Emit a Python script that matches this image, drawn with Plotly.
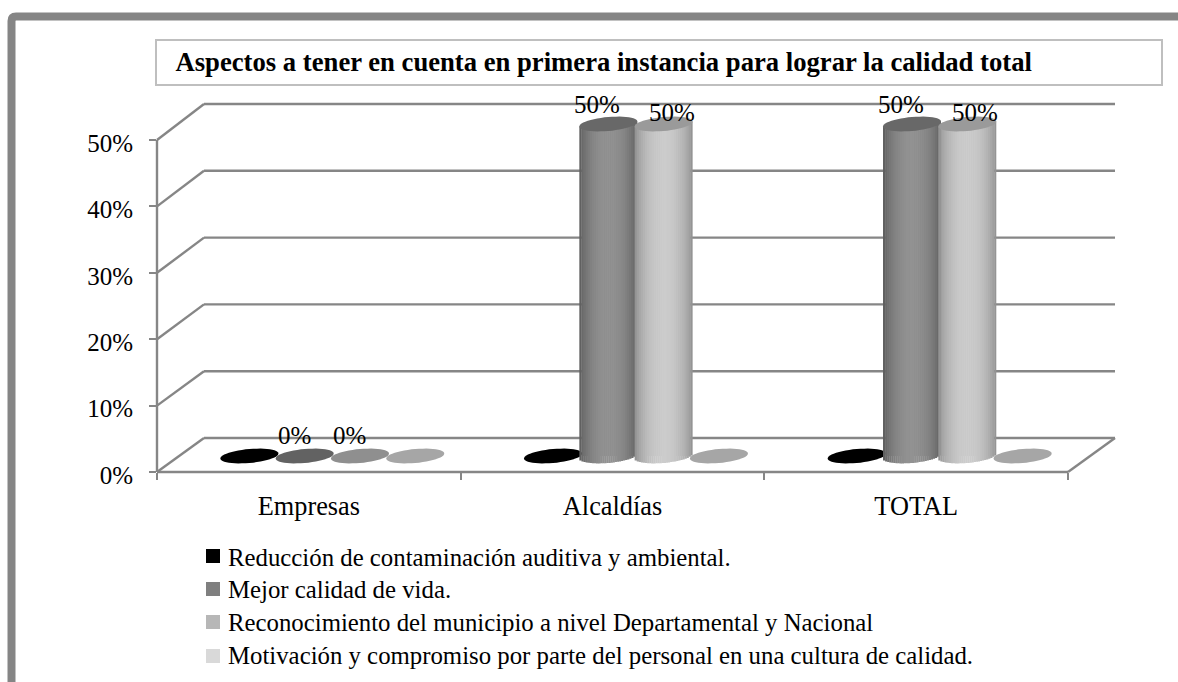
import math
import plotly.graph_objects as go

# ---- data ----
categories = ["Empresas", "Alcaldías", "TOTAL"]
series_names = [
    "Reducción de contaminación auditiva y ambiental.",
    "Mejor calidad de vida.",
    "Reconocimiento del municipio a nivel Departamental y Nacional",
    "Motivación y compromiso por parte del personal en una cultura de calidad.",
]
reduccion = [0, 0, 0]
mejor_calidad = [0, 0.5, 0.5]
reconocimiento = [0, 0.5, 0.5]
motivacion = [0, 0, 0]
y_ticks = [0, 0.1, 0.2, 0.3, 0.4, 0.5]
title_text = "Aspectos a tener en cuenta en primera instancia para lograr la calidad total"

# ---- style ----
FONT = "Liberation Serif"
W, H = 1178, 682
L, R_PX, B_PX = 157, 1068, 472      # front-plane pixel frame
DX, DY = 47, 34                     # depth of the 3D floor, px
TOP_50 = 140
T_PX = 103
xu = (R_PX - L) / 3
yu = (B_PX - TOP_50) / 0.5
GRID = "#868686"
legend_cols = ["#000000", "#7f7f7f", "#b7b7b7", "#d9d9d9"]
flat_cols = ["#000000", "#626262", "#8f8f8f", "#a6a6a6"]
top_cols = ["#000000", "#686868", "#9a9a9a", "#a6a6a6"]
edge_shade = [0, 0x55, 0x88, 0x88]
peak_shade = [0, 0x92, 0xCC, 0xCC]
shown_labels = [False, True, True, False]
all_series = [reduccion, mejor_calidad, reconocimiento, motivacion]

x_max = (R_PX + DX - L) / xu
y_max = (B_PX - T_PX) / yu
pitch = 55.3 / xu
floor_base = 16 / yu
depth_x = (DX / 2) / xu


def dx(px):  # pixel -> x data
    return (px - L) / xu


def dy(py):  # pixel -> y data
    return (B_PX - py) / yu


def px_x(v):
    return L + v * xu


def px_y(v):
    return B_PX - v * yu


def pap_x(px):
    return (px - L) / (R_PX + DX - L)


def pap_y(py):
    return (B_PX - py) / (B_PX - T_PX)


def hexg(g):
    g = int(round(g))
    return f"#{g:02x}{g:02x}{g:02x}"


shapes = []


def line(x0, y0, x1, y1):
    # drawn in paper fractions of the data range so lines on the plot edge are not clipped
    shapes.append(dict(type="line", xref="paper", yref="paper", x0=x0 / x_max, y0=y0 / y_max,
                       x1=x1 / x_max, y1=y1 / y_max, line=dict(color=GRID, width=2.4), layer="below"))


# frame (paper coordinates)
fx, fy = pap_x(11.5), pap_y(16.5)
shapes.append(dict(type="path", xref="paper", yref="paper", layer="below",
                   path=f"M{pap_x(11.5)},{pap_y(690)} L{fx},{pap_y(21)} Q{fx},{fy} {pap_x(16)},{fy} L{pap_x(1182)},{fy}",
                   line=dict(color="#858585", width=8)))
# title box
shapes.append(dict(type="rect", xref="paper", yref="paper", layer="below",
                   x0=pap_x(156), x1=pap_x(1162), y0=pap_y(85), y1=pap_y(40),
                   line=dict(color="#bfbfbf", width=2)))

# 3D walls, gridlines, floor
ddx, ddy = DX / xu, DY / yu
back_scale = 668 / 664
for t in y_ticks:
    back = ddy + t * back_scale
    line(0, t, ddx, back)
    line(ddx, back, x_max, back)
line(0, 0, 0, y_ticks[-1])
line(0, 0, 3, 0)
line(3, 0, x_max, ddy)

A, B, SHEAR = 29, 7, 0.085


def ellipse(cx_px, cy_px, a=A, b=B):
    pts = []
    for i in range(48):
        t = 2 * math.pi * i / 48
        x = a * math.cos(t)
        y = b * math.sin(t) - SHEAR * x
        pts.append((dx(cx_px + x), dy(cy_px + y)))
    return "M" + " L".join(f"{p[0]:.4f},{p[1]:.4f}" for p in pts) + " Z"


centers = []
for s in range(4):
    centers.append([c + 0.5 + depth_x + (s - 1.5) * pitch for c in range(3)])

# flat (zero) discs first
for s, vals in enumerate(all_series):
    for c, v in enumerate(vals):
        if v == 0:
            shapes.append(dict(type="path", xref="x", yref="y", path=ellipse(px_x(centers[s][c]), px_y(floor_base)),
                               fillcolor=flat_cols[s], line=dict(width=0), layer="above"))

# shaded cylinders
STRIPS = 28
for s, vals in enumerate(all_series):
    for c, v in enumerate(vals):
        if v == 0:
            continue
        cx = px_x(centers[s][c])
        y_bot = px_y(floor_base)
        y_top = px_y(floor_base + v)
        for k in range(STRIPS):
            t0, t1 = k / STRIPS, (k + 1.15) / STRIPS
            x0, x1 = -A + 2 * A * t0, -A + 2 * A * min(t1, 1)
            xm = (x0 + x1) / 2
            arc = B * math.sqrt(max(0, 1 - (xm / A) ** 2))
            tm = (k + 0.5) / STRIPS
            g = edge_shade[s] + (peak_shade[s] - edge_shade[s]) * math.sin(math.pi * tm) ** 0.6
            yb = y_bot + arc - SHEAR * xm
            yt = y_top - SHEAR * xm
            shapes.append(dict(type="path", xref="x", yref="y", layer="above",
                               path=f"M{dx(cx+x0):.4f},{dy(yb):.4f} L{dx(cx+x1):.4f},{dy(yb):.4f} "
                                    f"L{dx(cx+x1):.4f},{dy(yt):.4f} L{dx(cx+x0):.4f},{dy(yt):.4f} Z",
                               fillcolor=hexg(g), line=dict(width=0)))
        shapes.append(dict(type="path", xref="x", yref="y", path=ellipse(cx, y_top),
                           fillcolor=top_cols[s], line=dict(width=0), layer="above"))

fig = go.Figure()
for s, vals in enumerate(all_series):
    fig.add_trace(go.Bar(
        name=series_names[s],
        x=centers[s], y=vals, base=floor_base, width=pitch * 0.95,
        marker=dict(color=legend_cols[s], line=dict(width=0)),
        hoverinfo="skip", showlegend=False,
    ))

annotations = []
for s, vals in enumerate(all_series):
    if not shown_labels[s]:
        continue
    for c, v in enumerate(vals):
        if v == 0:
            xs, ys = -10.5, 21
        else:
            xs, ys = (-11, 20) if s == 1 else (8, 12)
        annotations.append(dict(x=centers[s][c], y=floor_base + v, xref="x", yref="y",
                                text=f"{v:.0%}", showarrow=False, xshift=xs, yshift=ys,
                                font=dict(family=FONT, size=25, color="#000000")))

# legend: swatches and real text, positioned in paper coordinates
swatch_rows = [556, 589, 622, 656]
text_rows = [557, 589, 622, 655]
for s, name in enumerate(series_names):
    cy = swatch_rows[s]
    shapes.append(dict(type="rect", xref="paper", yref="paper", layer="below",
                       x0=pap_x(206), x1=pap_x(220), y0=pap_y(cy + 7), y1=pap_y(cy - 7),
                       fillcolor=legend_cols[s], line=dict(width=0)))
    annotations.append(dict(x=pap_x(225.5), y=pap_y(text_rows[s]), xref="paper", yref="paper", xanchor="left",
                            yanchor="middle", text=name, showarrow=False,
                            font=dict(family=FONT, size=24.8, color="#000000")))

fig.update_layout(
    width=W, height=H,
    margin=dict(l=L, r=W - (R_PX + DX), t=T_PX, b=H - B_PX, pad=0),
    paper_bgcolor="white", plot_bgcolor="rgba(0,0,0,0)",
    barmode="overlay", bargap=0, showlegend=False,
    font=dict(family=FONT, size=25, color="#000000"),
    title=dict(text=f"<b>{title_text}</b>", x=175.5 / W, xref="container", xanchor="left",
               y=1 - 62 / H, yref="container", yanchor="middle",
               font=dict(family=FONT, size=26.67, color="#000000")),
    xaxis=dict(range=[0, x_max], tickvals=[c + 0.5 for c in range(3)], ticktext=categories,
               ticks="", showgrid=False, zeroline=False, showline=False, fixedrange=True,
               ticklabelstandoff=16, tickfont=dict(family=FONT, size=26.3),
               minor=dict(tickvals=[0, 1, 2, 3], ticks="outside", ticklen=7, tickwidth=2, tickcolor=GRID, showgrid=False)),
    yaxis=dict(range=[0, y_max], tickvals=y_ticks, tickformat=".0%", ticks="outside", ticklen=7,
               tickwidth=2, tickcolor=GRID, showgrid=False, zeroline=False, showline=False, fixedrange=True,
               ticklabelstandoff=11, ticklabelshift=3, tickfont=dict(family=FONT, size=25)),
    shapes=shapes, annotations=annotations,
)
fig.write_html("out.html", config={"displayModeBar": False},
               post_script="document.body.style.margin='0';document.body.style.overflow='hidden';")
